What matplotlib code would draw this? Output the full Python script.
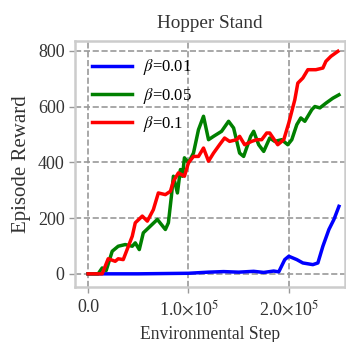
import matplotlib
matplotlib.use("Agg")
import matplotlib.pyplot as plt
from matplotlib.ticker import FuncFormatter

# data (x in 1e5 steps)
red_x = [0.0, 0.14, 0.20, 0.27, 0.30, 0.35, 0.44, 0.47, 0.54, 0.59, 0.65, 0.70, 0.77,
         0.82, 0.85, 0.90, 0.96, 1.00, 1.05, 1.10, 1.15, 1.20, 1.25, 1.31, 1.36, 1.41,
         1.48, 1.51, 1.56, 1.63, 1.68, 1.73, 1.78, 1.81, 1.89, 1.95, 2.00, 2.06, 2.09,
         2.14, 2.19, 2.27, 2.34, 2.37, 2.42, 2.49]
red_y = [0, 0, 54, 45, 54, 51, 135, 183, 207, 189, 230, 290, 284,
         296, 332, 362, 350, 398, 421, 421, 451, 404, 433, 463, 487, 475,
         481, 493, 463, 475, 481, 481, 505, 505, 463, 481, 541, 624, 684,
         702, 732, 732, 738, 762, 780, 798]

green_x = [0.0, 0.10, 0.14, 0.18, 0.24, 0.30, 0.37, 0.44, 0.47, 0.51, 0.55, 0.62, 0.69,
           0.73, 0.77, 0.80, 0.83, 0.85, 0.89, 0.92, 0.94, 0.96, 1.00, 1.05, 1.10, 1.15,
           1.20, 1.25, 1.33, 1.40, 1.45, 1.51, 1.55, 1.62, 1.65, 1.70, 1.75, 1.81, 1.86,
           1.93, 1.99, 2.03, 2.08, 2.12, 2.16, 2.23, 2.26, 2.31, 2.37, 2.44, 2.50]
green_y = [0, 0, 21, 12, 81, 99, 105, 99, 111, 87, 147, 171, 195,
           177, 159, 183, 278, 350, 290, 374, 350, 416, 398, 433, 517, 565,
           481, 493, 511, 547, 523, 433, 421, 493, 511, 463, 439, 487, 475,
           481, 463, 481, 535, 559, 547, 589, 600, 595, 612, 630, 642]

blue_x = [0.0, 0.50, 1.00, 1.20, 1.35, 1.50, 1.65, 1.75, 1.85, 1.90, 1.96, 2.00,
          2.08, 2.14, 2.24, 2.29, 2.34, 2.40, 2.45, 2.50]
blue_y = [0, 0, 2, 6, 8, 6, 9, 5, 10, 7, 51, 63, 51, 39, 33, 39, 99, 159, 195, 242]

labels = [r'$\beta$=0.01', r'$\beta$=0.05', r'$\beta$=0.1']
colors = ['blue', 'green', 'red']

plt.rcParams['font.family'] = ['Liberation Serif', 'DejaVu Serif']
plt.rcParams['mathtext.fontset'] = 'stix'

fig = plt.figure(figsize=(3.46, 3.42), dpi=100)
ax = fig.add_axes([0.217, 0.161, 0.78, 0.72])

series = [(blue_x, blue_y), (green_x, green_y), (red_x, red_y)]
for (xs, ys), c, lab in zip(series, colors, labels):
    ax.plot([v * 1e5 for v in xs], ys, color=c, lw=2.5, label=lab)

ax.set_xlim(-0.13e5, 2.56e5)
ax.set_ylim(-47, 836)
ax.set_xticks([0, 1e5, 2e5])
ax.set_yticks([0, 200, 400, 600, 800])

def fmt(v, pos):
    if v == 0:
        return '0.0'
    return r'%.1f$\times$10$^{5}$' % (v / 1e5)

ax.xaxis.set_major_formatter(FuncFormatter(fmt))
ax.grid(True, ls='--', color='#999999', lw=1.2)
for s in ax.spines.values():
    s.set_color('#cccccc')
    s.set_linewidth(1.8)
ax.tick_params(colors='#999999', labelcolor='#333333', labelsize=13, length=4, width=1)
ax.tick_params(axis='x', pad=5)

ax.set_title('Hopper Stand', fontsize=13.8, color='#333333', pad=9)
ax.set_xlabel('Environmental Step', fontsize=12.7, color='#333333', labelpad=5)
ax.set_ylabel('Episode Reward', fontsize=15, color='#333333', labelpad=5)

ax.legend(loc='upper left', frameon=False, fontsize=12, handlelength=2.4,
          handletextpad=0.7, borderaxespad=0.6, labelspacing=0.5)

fig.savefig('out.png', dpi=100)
